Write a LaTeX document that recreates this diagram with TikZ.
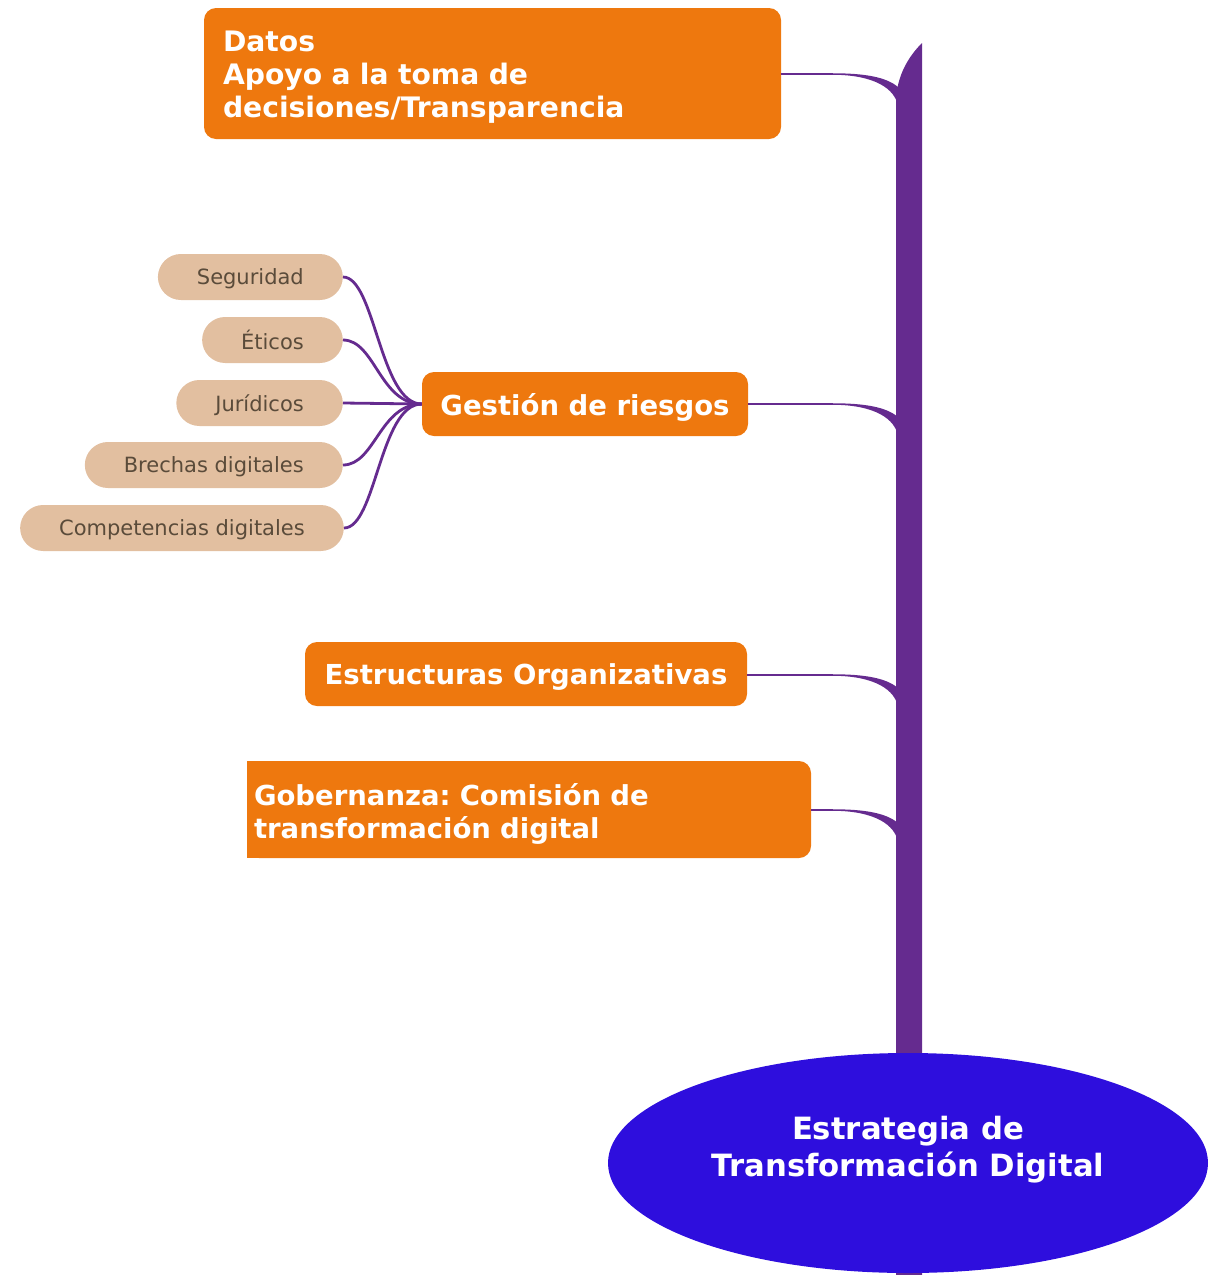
\documentclass[tikz,border=0pt]{standalone}
\usepackage{fontspec}
\setmainfont{DejaVu Sans}
\frenchspacing
\usetikzlibrary{shapes.geometric}
\definecolor{orangeC}{RGB}{238,120,14}
\definecolor{trunkC}{RGB}{101,43,143}
\definecolor{ellC}{RGB}{46,14,221}
\definecolor{pillC}{RGB}{226,191,160}
\definecolor{pillT}{RGB}{90,75,58}
\tikzset{
  mainbox/.style={fill=orangeC, rounded corners=12pt, text=white, inner ysep=0pt,
    font=\bfseries\fontsize{27.5}{33}\selectfont},
  maintext/.style={text=white, inner ysep=0pt, align=left,
    font=\bfseries\fontsize{27.5}{33}\selectfont},
  pillbox/.style={fill=pillC, rounded corners=23pt, text=pillT, minimum height=46pt, text depth=0pt,
    inner xsep=39pt, inner ysep=0pt, anchor=east, font=\fontsize{21}{25}\selectfont},
  twig/.style={draw=trunkC, line width=2.8pt},
  stem/.style={draw=trunkC, line width=1.5pt},
}
\newcommand{\taper}[1]{\fill[trunkC] (832,#1-0.75) .. controls (865,#1-0.75) and (886,#1+3) .. (898,#1+13) -- (898,#1+32) .. controls (895,#1+15) and (875,#1+0.75) .. (832,#1+0.75) -- cycle;}
\begin{document}
\begin{tikzpicture}[x=1pt,y=-1pt]
\useasboundingbox (0,0) rectangle (1211,1275);
% trunk
\fill[trunkC] (896,103) -- (896,1275) -- (922,1275) -- (922,43) .. controls (909,56) and (896,76) .. (896,103) -- cycle;
% main boxes
\node[mainbox, minimum width=577pt, minimum height=131pt] (datosbox) at (492.5,73.5) {};
\node[maintext, text width=539pt, inner xsep=0pt, font=\bfseries\fontsize{28.2}{33}\selectfont] (datos) at ([yshift=-3.5pt]datosbox.center) {Datos\\Apoyo a la toma de\\decisiones/Transparencia};
\node[mainbox, text depth=0pt, minimum width=326pt, minimum height=64pt] (gest) at (585,404) {Gestión de riesgos};
\node[mainbox, text depth=0pt, minimum width=442pt, minimum height=64pt] (estr) at (526,674) {Estructuras Organizativas};
\node[mainbox, minimum width=564pt, minimum height=97pt] (gobbox) at (529,809.5) {};
\fill[orangeC] (gobbox.south west) rectangle ([xshift=20pt]gobbox.north west);
\node[maintext, text width=550pt, inner xsep=0pt] (gob) at ([yshift=-4pt]gobbox.center) {Gobernanza: Comisión de\\transformación digital};
% branch connectors
\coordinate (j1) at (833,74);
\coordinate (j2) at (833,404);
\coordinate (j3) at (833,675);
\coordinate (j4) at (833,810);
\draw[stem] (datosbox.east |- j1) -- (j1);
\draw[stem] (gest.east |- j2) -- (j2);
\draw[stem] (estr.east |- j3) -- (j3);
\draw[stem] (gobbox.east |- j4) -- (j4);
\taper{74}
\taper{404}
\taper{675}
\taper{810}
% pills
\node[pillbox] (p1) at (343,277) {Seguridad};
\node[pillbox] (p2) at (343,340) {Éticos};
\node[pillbox] (p3) at (343,403) {Jurídicos};
\node[pillbox] (p4) at (343,465) {Brechas digitales};
\node[pillbox] (p5) at (344,528) {Competencias digitales};
\draw[twig] (p1.east) .. controls +(32,0) and +(-42,0) .. (gest.west);
\draw[twig] (p2.east) .. controls +(32,0) and +(-42,0) .. (gest.west);
\draw[twig] (p3.east) -- (gest.west);
\draw[twig] (p4.east) .. controls +(32,0) and +(-42,0) .. (gest.west);
\draw[twig] (p5.east) .. controls +(32,0) and +(-42,0) .. (gest.west);
% root ellipse
\node[ellipse, fill=ellC, minimum width=600pt, minimum height=220pt, inner sep=0pt] (root) at (908,1163) {};
\node[text=white, align=center, font=\bfseries\fontsize{30.7}{37}\selectfont] (roottext) at ([yshift=13pt]root.center) {Estrategia de\\Transformación Digital};
\end{tikzpicture}
\end{document}
